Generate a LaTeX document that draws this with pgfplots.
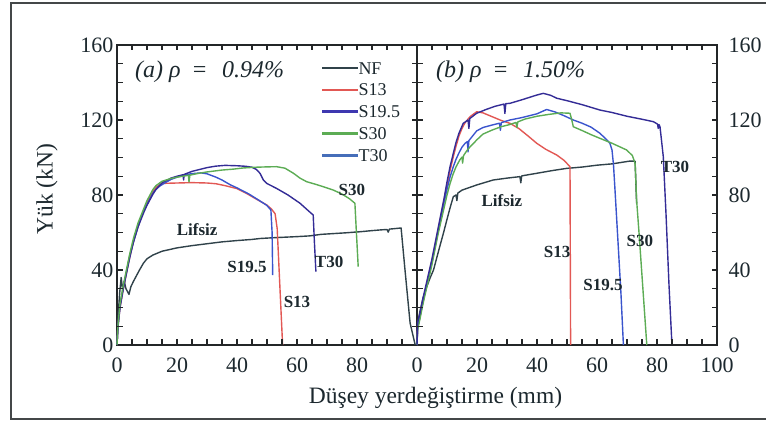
\documentclass[border=0pt]{standalone}
\usepackage{fontspec}
\setmainfont{Liberation Serif}
\usepackage{pgfplots}
\pgfplotsset{compat=1.18}

\definecolor{txt}{RGB}{28,40,46}
\definecolor{axc}{RGB}{35,38,40}
\definecolor{cNF}{RGB}{48,66,74}
\definecolor{cS13}{RGB}{226,88,84}
\definecolor{cS195}{RGB}{58,84,205}
\definecolor{cS30}{RGB}{92,172,84}
\definecolor{cT30}{RGB}{52,44,150}
\definecolor{lS195}{RGB}{62,56,176}
\definecolor{lT30}{RGB}{70,110,185}

\tikzset{
  tag/.style={font=\bfseries\fontsize{17}{17}\selectfont, color=txt, inner sep=1pt},
  ttl/.style={font=\itshape\fontsize{24}{24}\selectfont, color=txt, anchor=west, inner sep=0pt},
}
\pgfplotsset{
  panel/.style={
    scale only axis, width=300pt, height=300pt,
    xmin=0, xmax=100, ymin=0, ymax=160,
    xtick={0,20,...,100}, ytick={0,40,...,160},
    minor x tick num=3, minor y tick num=3,
    tick align=inside,
    major tick length=5.5pt, minor tick length=5.5pt,
    tick style={line width=1.2pt, color=axc},
    axis line style={line width=1.3pt, color=axc},
    /pgf/number format/assume math mode=true,
    tick label style={font=\fontsize{22}{22}\selectfont, color=txt},
    xticklabel style={yshift=-9pt},
  },
  curve/.style={line width=1.4pt, line join=round},
}

% inward tick marks (small filled bars) on all four sides of a panel
\newcommand{\panelticks}{%
  \pgfplotsextra{%
    \foreach \t in {5,10,15,20,25,30,35,40,45,50,55,60,65,70,75,80,85,90,95}{%
      \fill[axc] (axis cs:\t,0) ++(-0.65pt,0pt) rectangle ++(1.3pt,5.5pt);
      \fill[axc] (axis cs:\t,160) ++(-0.65pt,0pt) rectangle ++(1.3pt,-5.5pt);}
    \foreach \t in {10,20,30,40,50,60,70,80,90,100,110,120,130,140,150}{%
      \fill[axc] (axis cs:0,\t) ++(0pt,-0.65pt) rectangle ++(5.5pt,1.3pt);
      \fill[axc] (axis cs:100,\t) ++(0pt,-0.65pt) rectangle ++(-5.5pt,1.3pt);}
  }%
}

\begin{document}
\begin{tikzpicture}
\useasboundingbox (0pt,0pt) rectangle (766pt,423pt);
\draw[line width=1.8pt, color=axc!85] (11pt,4pt) rectangle (770pt,420pt);

% ---------------- panel (a): rho = 0.94 % ----------------
\begin{axis}[panel, at={(117pt,78pt)}, anchor=south west,
  clip=false,
  xticklabels={0,20,40,60,80,{}},
  legend style={draw=none, fill=none, at={(axis cs:68.3,151.8)}, anchor=north west,
    inner sep=0pt, font=\fontsize{18}{18}\selectfont, text=txt,
    nodes={inner sep=1pt, text height=12.5pt, text depth=0pt},
    row sep=7.3pt, column sep=0pt},
  legend cell align=left,
  legend image code/.code={\fill[#1] (0pt,-0.8pt) rectangle (35pt,0.8pt);},
]
\addlegendimage{cNF}\addlegendentry{NF}
\addlegendimage{cS13}\addlegendentry{S13}
\addlegendimage{lS195}\addlegendentry{S19.5}
\addlegendimage{cS30}\addlegendentry{S30}
\addlegendimage{lT30}\addlegendentry{T30}

% no fibre
\addplot[curve, cNF, forget plot] coordinates {
(0,0) (0.4,16) (0.9,28) (1.4,36) (1.9,29) (2.4,34) (3,30) (4,27) (4.6,31)
(5.5,34) (6.5,37) (7.5,40) (8.8,43.6) (10,46) (12,48) (15,50) (20,51.8)
(25,53) (31,54.2) (35,55) (40,55.7) (45,56.3) (47.7,56.8) (52,57.2)
(56,57.5) (60,57.8) (64.3,58.2) (68,59) (72,59.4) (76,59.8) (81,60.4)
(85,61) (88,61.4) (90,61.6) (90.4,60.2) (90.8,61.8) (94.7,62.4)
(96,40) (97.7,11.7) (99.4,0)};
% S13
\addplot[curve, cS13, forget plot] coordinates {
(0,0) (0.3,10) (1,20) (2,29) (3,37) (4,45) (5,52) (6,58) (7,63) (8,68)
(9,72) (10,76) (11,79) (12,82) (13,84) (14,85.2) (15.5,86.2) (20,86.4)
(25,86.6) (30,86.4) (33,86) (36,85) (40,83.4) (43,81) (46,78.2)
(49.9,74.7) (51.5,72.5) (52.7,70) (53.4,62) (55.2,0)};
% S19.5
\addplot[curve, cS195, forget plot] coordinates {
(0,0) (0.3,10) (1,21) (2,30) (3,38) (4.3,48) (5.5,55) (7,63) (8,68)
(9,72) (10,75) (11,78) (12,81) (13,83) (14.3,84.8) (16,86.5) (18,88.3)
(20,89.5) (22,90.5) (25,91.4) (28,91.8) (30,91.3) (33,89.5) (35,88)
(37.7,85.5) (40,83.8) (44,80.5) (47,77.5) (49.9,74.5) (51.3,72)
(51.7,60) (51.9,37.3)};
% T30
\addplot[curve, cT30, forget plot] coordinates {
(0,0) (0.3,9) (1,20) (2,29) (3,37) (4.3,47) (5.5,55) (7,63) (8,67)
(9,71) (10,74.5) (11,77.5) (12,80.5) (13,83) (15,86.5) (18,89)
(20,90) (22,90.8) (22.2,88) (22.4,91) (25,92.6) (28,93.8) (30,94.6)
(33,95.4) (36,95.8) (40,95.6) (43,95.3) (45,94.8) (46.5,93.6)
(47.7,91.5) (48.8,88) (49.9,86.2) (53.2,83.5) (57,80) (61,75.6)
(63.5,72) (65.4,69.3) (65.8,55) (66.3,39.1)};
% S30
\addplot[curve, cS30, forget plot] coordinates {
(0,0) (0.3,10) (1,22) (2,31) (3,39) (4.3,49) (5.5,57) (7,65) (8,69)
(9,73) (10,77) (11,80) (12,83) (13,85) (15,87.3) (18,88.8) (20,89.5)
(23,90.3) (23.8,90.5) (24,87) (24.3,90.6) (27,91.5) (30,92.3)
(35,93.3) (38.8,93.8) (42,94.4) (46,94.8) (50,95) (53.2,95.1)
(56,94.3) (58.8,91.6) (61,89) (63.2,87.1) (66,85.8) (69,84.3)
(72,82.7) (75,80.5) (77.5,78) (79.3,75.6) (79.8,60) (80.4,41.8)};

\node[tag] at (axis cs:26.7,61.3) {Lifsiz};
\node[tag] at (axis cs:78.3,82.7) {S30};
\node[tag] at (axis cs:70.7,44.3) {T30};
\node[tag] at (axis cs:43.3,41.6) {S19.5};
\node[tag] at (axis cs:60,22.9) {S13};
\node[ttl] at (axis cs:6,145.6) {(a) ρ\hspace{0.45em}=\hspace{0.6em}0.94\%};
\panelticks
\end{axis}

% ---------------- panel (b): rho = 1.50 % ----------------
\begin{axis}[panel, at={(417pt,78pt)}, anchor=south west,
  clip=false,
  yticklabel pos=right,
  yticklabel style={xshift=8pt},
]
% no fibre
\addplot[curve, cNF] coordinates {
(0,0) (0.2,11.5) (1,18) (2,25) (3,30) (4.3,35.5) (5.5,40) (6.5,46)
(7.5,52) (8.8,59.6) (10,67) (11,73) (12.1,79.1) (13,80) (13.3,77)
(13.6,81) (15,82.6) (16.6,83.5) (20,85.4) (25.4,88) (30,89) (34.3,89.8)
(34.6,86.5) (34.9,90.2) (40,91.6) (45,93) (49.9,94.2) (55,94.9)
(60,95.9) (65,96.6) (71,98.1) (72.7,98) (73.2,75.6)};
% S13
\addplot[curve, cS13] coordinates {
(0,0) (0.2,10) (1,16) (2.1,24) (3,31) (4,38) (5,45) (6,53) (7,61)
(8,69) (9,77) (10,85) (11,93) (12.1,100.4) (13,106) (14,111.5)
(15,115.5) (16,118.5) (17.7,121.8) (19.9,124.4) (22,123.8) (25,121.8)
(28,119.8) (31,118.2) (34,115.4) (37,111.5) (39.9,107.6) (43,104.3)
(46.6,101.3) (49,98.5) (51,95.1) (51.2,0)};
% S19.5
\addplot[curve, cS195] coordinates {
(0,0) (0.2,9) (1,15) (2,23) (3,30) (4,37) (5,44) (6,52) (7,60) (8,68)
(9,76) (10,83) (11,89.5) (12.1,95.1) (13,99) (14,102.5) (15,105.5)
(16,107.5) (16.8,108.5) (17,103) (17.3,109) (19.9,114.2) (22,116)
(25,117.3) (27.5,118.3) (27.8,114.5) (28.1,118.6) (31,120) (35,121.3)
(40,123.3) (43.2,125.6) (46,124.3) (49,122.3) (52.1,120) (55,118.3)
(58,116.2) (61,112.9) (63.5,109) (64.3,107.6) (65,104) (65.5,96)
(66,82.7) (67,55) (68,27) (68.8,0)};
% S30
\addplot[curve, cS30] coordinates {
(0,0) (0.2,8) (1,14) (2,22) (3,29) (4,36) (5,43) (6,51) (7,59) (8,66)
(9,73) (10,80) (11,86) (12,91) (13,95) (14.3,98.8) (15,100.2) (15.2,97)
(15.5,101) (17,104.5) (20,109.5) (22,112.5) (25,114.6) (28,116.4)
(31,117.6) (33,118.7) (33.3,116) (33.6,119) (36,120.5) (40,122)
(44,123) (48,123.8) (51,123.6) (51.6,120) (52.1,116.4) (55,114.4)
(58,112.2) (61,110.2) (65,107.6) (69.9,104) (71.8,101) (72.7,96.9)
(73.2,77.3) (74,60) (75.3,30) (76.6,0)};
% T30
\addplot[curve, cT30] coordinates {
(0,0) (0.2,12) (1,17) (2,25) (3,32) (4,39) (5,46) (6,54) (7,62) (8,70)
(9,78) (10,87) (11,95) (12.1,102.2) (13,108) (14,113) (15.4,118.2)
(17,120) (17.3,115.5) (17.6,120.8) (19.9,123.6) (23,125.6) (26,127.3)
(29,128.5) (29.3,123.5) (29.6,128.7) (31,128.9) (35,130.8) (39.9,133.3)
(42.1,134.2) (44.5,133.2) (46.6,131.6) (50,130.3) (55,128.2)
(61,125.3) (65,124) (70,122) (75,120.4) (78.8,119.1) (80.2,117.8)
(80.4,115.5) (80.7,117.5) (81,116.4) (82.1,100.4) (83,70) (84,32)
(84.9,2.7) (85,0)};

\node[tag] at (axis cs:28.3,76.8) {Lifsiz};
\node[tag] at (axis cs:86,94.9) {T30};
\node[tag] at (axis cs:74.3,55.5) {S30};
\node[tag] at (axis cs:46.7,49.6) {S13};
\node[tag] at (axis cs:62,32) {S19.5};
\node[ttl] at (axis cs:6.3,145.6) {(b) ρ\hspace{0.45em}=\hspace{0.6em}1.50\%};
\panelticks
\end{axis}

% axis titles
\node[rotate=90, font=\fontsize{23.5}{23.5}\selectfont, color=txt] at (47pt,234pt) {Yük (kN)};
\node[font=\fontsize{23.5}{23.5}\selectfont, color=txt] at (435.5pt,25pt) {Düşey yerdeğiştirme (mm)};
\end{tikzpicture}
\end{document}
